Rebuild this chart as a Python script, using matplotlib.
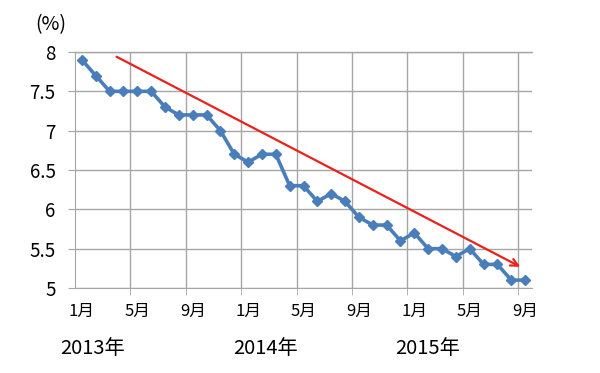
import matplotlib.pyplot as plt
import matplotlib.transforms as mtransforms
import numpy as np

plt.rcParams['font.family'] = ['Noto Sans CJK JP', 'DejaVu Sans']

# monthly values, Jan 2013 - Sep 2015 (%)
rate = [7.9, 7.7, 7.5, 7.5, 7.5, 7.5, 7.3, 7.2, 7.2, 7.2, 7.0, 6.7,
        6.6, 6.7, 6.7, 6.3, 6.3, 6.1, 6.2, 6.1, 5.9, 5.8, 5.8, 5.6,
        5.7, 5.5, 5.5, 5.4, 5.5, 5.3, 5.3, 5.1, 5.1]
month_labels = ['1月', '5月', '9月'] * 3
year_labels = ['2013年', '2014年', '2015年']
year_pos = [-1.55, 10.95, 22.6]   # left edge of each year label (month index)
trend_start = (2.5, 7.94)
trend_end = (31.65, 5.27)

x = np.arange(len(rate))

fig = plt.figure(figsize=(6, 3.73), dpi=100)
ax = fig.add_axes([0.125, 0.2279, 0.7617, 0.6327])

grid_c = '#a6a6a6'
ax.plot(x, rate, color='#4a7ebb', lw=2.6, marker='D', ms=5.5, zorder=3)

ax.set_xlim(-0.5, len(rate) - 0.5)
ax.set_ylim(5, 8)
ax.set_yticks(np.arange(5, 8.01, 0.5))
ax.set_yticklabels(['5', '5.5', '6', '6.5', '7', '7.5', '8'])

ax.set_xticks(x[::4])
ax.set_xticklabels(month_labels)
ax.set_xticks(np.arange(3.5, len(rate), 4), minor=True)

ax.tick_params(axis='x', which='major', length=0, pad=11, labelsize=12)
ax.tick_params(axis='x', which='minor', length=5, color=grid_c, direction='out')
ax.tick_params(axis='y', length=5, color=grid_c, pad=9, labelsize=13.5)

ax.grid(True, axis='y', color=grid_c, lw=1)
ax.grid(True, axis='x', which='minor', color=grid_c, lw=1)
ax.axhline(8, color=grid_c, lw=1, clip_on=False, zorder=1)

for side in ['top', 'right']:
    ax.spines[side].set_visible(False)
for side in ['left', 'bottom']:
    ax.spines[side].set_color(grid_c)

ax.annotate('', xy=trend_end, xytext=trend_start,
            arrowprops=dict(arrowstyle='->', color='#e8221c', lw=1.6,
                            mutation_scale=13, shrinkA=0, shrinkB=0), zorder=4)

trans = mtransforms.blended_transform_factory(ax.transData, fig.transFigure)
for pos, lab in zip(year_pos, year_labels):
    ax.text(pos, 1 - 349 / 373, lab, transform=trans, ha='left', va='center',
            fontsize=14.5)

fig.text(35 / 600, 1 - 25 / 373, '(%)', ha='left', va='center', fontsize=14)

fig.savefig('out.png', dpi=100)
